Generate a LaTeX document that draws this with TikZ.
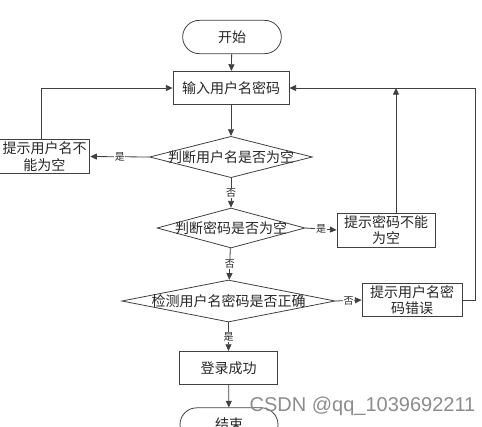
\documentclass[tikz,border=0pt]{standalone}
\usepackage{fontspec}
\setmainfont{Noto Sans CJK SC}
\newfontfamily\markfont{Liberation Sans}
\usetikzlibrary{shapes.geometric,arrows.meta}

\tikzset{
  box/.style={draw=black!75, line width=0.6pt, minimum height=25pt, align=center,
    inner sep=1pt, text=black!85, font=\fontsize{10.5}{12.5}\selectfont},
  term/.style={box, rounded corners=12.5pt},
  decision/.style={draw=black!75, line width=0.6pt, diamond, inner sep=0pt,
    text=black!85, font=\fontsize{10.5}{12.5}\selectfont},
  arr/.style={draw=black!75, line width=0.6pt, -{Triangle[length=5pt,width=4.5pt]}},
  yn/.style={fill=white, inner sep=0.5pt, text=black!85, font=\fontsize{7.5}{9}\selectfont},
}

\begin{document}
\begin{tikzpicture}[x=0.75pt, y=-0.75pt]
  \useasboundingbox (0,0) rectangle (482,426);
  % main column
  \node[term, minimum width=74pt] (start) at (232,37) {开始};
  \node[box, minimum width=87pt] (input) at (231,88) {输入用户名密码};
  \node[decision, minimum width=122pt, minimum height=31pt] (chkname) at (231,157) {\makebox[0pt]{判断用户名是否为空}};
  \node[decision, minimum width=111pt, minimum height=30pt] (chkpwd) at (231,228) {\makebox[0pt]{判断密码是否为空}};
  \node[decision, minimum width=160pt, minimum height=31.5pt] (chkall) at (228.5,301) {\makebox[0pt]{检测用户名密码是否正确}};
  \node[box, minimum width=73pt] (ok) at (228.5,368) {登录成功};
  \node[term, minimum width=73.5pt] (stop) at (229,424.5) {结束};
  % messages
  \node[box, minimum width=68pt] (msgname) at (44.5,156.5) {提示用户名不\\能为空};
  \node[box, minimum width=73.5pt, minimum height=25.5pt] (msgpwd) at (386,230) {提示密码不能\\为空};
  \node[box, minimum width=75pt] (msgerr) at (412,300) {提示用户名密\\码错误};
  \coordinate (loopR) at (475,88);

  \draw[arr] (start) -- (input);
  \draw[arr] (input) -- (chkname);
  \draw[arr] (chkname.west) -- node[yn] {是} (msgname.east);
  \draw[arr] ([xshift=-2.5pt]msgname.north) |- (input.west);
  \draw[arr] (chkname) -- node[yn] {否} (chkpwd);
  \draw[arr] (chkpwd.east) -- node[yn] {是} (msgpwd.west);
  \draw[arr] ([xshift=7.5pt]msgpwd.north) -- ([xshift=7.5pt]msgpwd.north |- input.east);
  \draw[arr] (chkpwd) -- node[yn] {否} (chkall);
  \draw[arr] (chkall.east) -- node[yn] {否} (msgerr.west);
  \draw[arr] (msgerr.east) -| (loopR) -- (input.east);
  \draw[arr] (chkall) -- node[yn] {是} (ok);
  \draw[arr] (ok) -- (stop);

  \node[text=black!45, font=\markfont\fontsize{15}{15}\selectfont, inner sep=0pt] (mark) at (362.5,406) {CSDN @qq\_1039692211};
\end{tikzpicture}
\end{document}
